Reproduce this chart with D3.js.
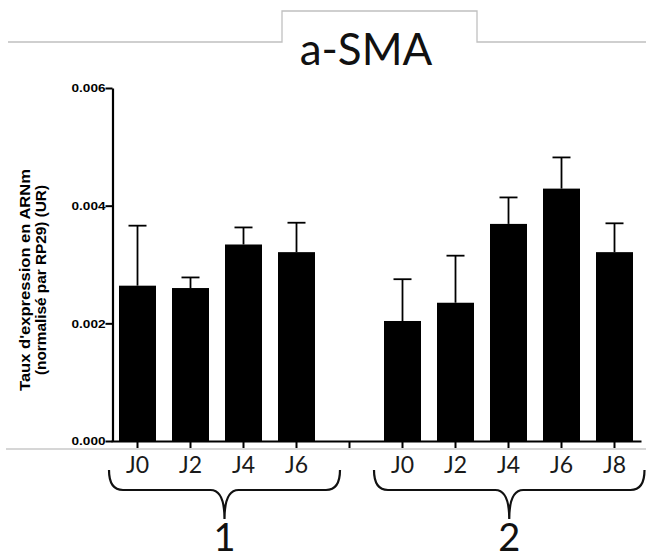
<!DOCTYPE html>
<html>
<head>
<meta charset="utf-8">
<script src="https://cdn.jsdelivr.net/npm/d3@7"></script>
<style>
  html, body { margin: 0; padding: 0; background: #fff; }
  svg { display: block; }
</style>
</head>
<body>
<svg id="chart" width="646" height="560"></svg>
<script>
// ---- data ----
const title = "a-SMA";
const dayLabels = ["J0", "J2", "J4", "J6", "J0", "J2", "J4", "J6", "J8"];
const groups = ["1", "1", "1", "1", "2", "2", "2", "2", "2"];
const groupNames = ["1", "2"];
const means = [0.00264, 0.00260, 0.00334, 0.00321, 0.00204, 0.00235, 0.00369, 0.00429, 0.00321];
const errors = [0.00102, 0.00018, 0.00029, 0.00050, 0.00071, 0.00080, 0.00045, 0.00053, 0.00049];
const yTicks = [0, 0.002, 0.004, 0.006];
const yLabelLines = ["Taux d'expression en ARNm", "(normalisé par RP29) (UR)"];

// ---- layout ----
const svg = d3.select("#chart");
const W = 646, H = 560;

// slot keys: group-1 bars, one empty slot, group-2 bars
const slotKeys = [];
dayLabels.forEach((d, i) => {
  if (i > 0 && groups[i] !== groups[i - 1]) slotKeys.push("gap" + i);
  slotKeys.push("b" + i);
});

const x = d3.scaleBand().domain(slotKeys).range([111, 641]).paddingInner(0.302).paddingOuter(0.151);
const y = d3.scaleLinear().domain([0, 0.006]).range([441, 88]);
const bw = x.bandwidth();
const barKeys = dayLabels.map((d, i) => "b" + i);

// title tab
const grey = "#c0c0c0";
svg.append("path")
  .attr("d", "M8,42 H282 V11 H477 V42 H646")
  .attr("fill", "none").attr("stroke", grey).attr("stroke-width", 1.3);
svg.append("text")
  .attr("x", 366).attr("y", 64.5)
  .attr("text-anchor", "middle")
  .attr("font-family", "Lato, 'Open Sans', sans-serif")
  .attr("font-size", 44)
  .attr("fill", "#111")
  .text(title);

// grey separator line under axis
svg.append("line")
  .attr("x1", 6).attr("x2", W).attr("y1", 449).attr("y2", 449)
  .attr("stroke", "#c8c8c8").attr("stroke-width", 1.3);

// bars
svg.append("g").selectAll("rect")
  .data(means)
  .join("rect")
  .attr("x", (d, i) => x(barKeys[i]))
  .attr("y", d => y(d))
  .attr("width", bw)
  .attr("height", d => y(0) - y(d))
  .attr("fill", "#000");

// error bars (upper only)
const eb = svg.append("g").attr("stroke", "#000").attr("stroke-width", 1.8);
means.forEach((m, i) => {
  const cx = x(barKeys[i]) + bw / 2;
  eb.append("line").attr("x1", cx).attr("x2", cx).attr("y1", y(m)).attr("y2", y(m + errors[i]));
  eb.append("line").attr("x1", cx - 9).attr("x2", cx + 9).attr("y1", y(m + errors[i])).attr("y2", y(m + errors[i]));
});

// y axis
const yAxis = svg.append("g")
  .attr("transform", "translate(112.5,0)")
  .call(d3.axisLeft(y).tickValues(yTicks).tickFormat(d3.format(".3f")).tickSize(7).tickSizeOuter(0));
yAxis.select(".domain").attr("stroke", "#000").attr("stroke-width", 2.2);
yAxis.selectAll(".tick line").attr("stroke", "#000").attr("stroke-width", 2);
yAxis.selectAll(".tick text")
  .attr("font-family", "'Liberation Sans', Arial, sans-serif")
  .attr("font-weight", "bold")
  .attr("font-size", 11.5)
  .attr("fill", "#000")
  .attr("x", -7)
  .attr("textLength", 34)
  .attr("lengthAdjust", "spacingAndGlyphs");

// x axis
const xAxis = svg.append("g")
  .attr("transform", "translate(0,441)")
  .call(d3.axisBottom(x).tickSize(7).tickSizeOuter(0).tickFormat(""));
xAxis.select(".domain").attr("stroke", "#000").attr("stroke-width", 2.2);
xAxis.selectAll(".tick line").attr("stroke", "#000").attr("stroke-width", 2);

// day labels
svg.append("g").selectAll("text")
  .data(dayLabels)
  .join("text")
  .attr("x", (d, i) => x(barKeys[i]) + bw / 2)
  .attr("y", 473)
  .attr("text-anchor", "middle")
  .attr("font-family", "Lato, 'Open Sans', sans-serif")
  .attr("font-size", 23)
  .attr("fill", "#1a1a1a")
  .text(d => d);

// y label
const yl = svg.append("text")
  .attr("transform", "translate(0,280) rotate(-90)")
  .attr("text-anchor", "middle")
  .attr("font-family", "'Liberation Sans', Arial, sans-serif")
  .attr("font-weight", "bold")
  .attr("font-size", 15)
  .attr("fill", "#000");
yl.append("tspan").attr("x", 0).attr("y", 30).attr("textLength", 222).attr("lengthAdjust", "spacingAndGlyphs").text(yLabelLines[0]);
yl.append("tspan").attr("x", 0).attr("y", 46).attr("textLength", 190).attr("lengthAdjust", "spacingAndGlyphs").text(yLabelLines[1]);

// group braces and labels
groupNames.forEach(g => {
  const idx = groups.map((v, i) => v === g ? i : -1).filter(i => i >= 0);
  const x0 = x(barKeys[idx[0]]) - 10;
  const x1 = Math.min(x(barKeys[idx[idx.length - 1]]) + bw + 25, W - 1.5);
  const mid = (x0 + x1) / 2;
  const top = 470, line = 490, tip = 519, r = 14;
  const p = d3.path();
  p.moveTo(x0, top);
  p.quadraticCurveTo(x0, line, x0 + r, line);
  p.lineTo(mid - r, line);
  p.quadraticCurveTo(mid, line, mid, tip);
  p.quadraticCurveTo(mid, line, mid + r, line);
  p.lineTo(x1 - r, line);
  p.quadraticCurveTo(x1, line, x1, top);
  svg.append("path").attr("d", p.toString())
    .attr("fill", "none").attr("stroke", "#111").attr("stroke-width", 2.2);
  svg.append("text")
    .attr("x", mid).attr("y", 551)
    .attr("text-anchor", "middle")
    .attr("font-family", "Lato, 'Open Sans', sans-serif")
    .attr("font-size", 38)
    .attr("fill", "#111")
    .text(g);
});
</script>
</body>
</html>
